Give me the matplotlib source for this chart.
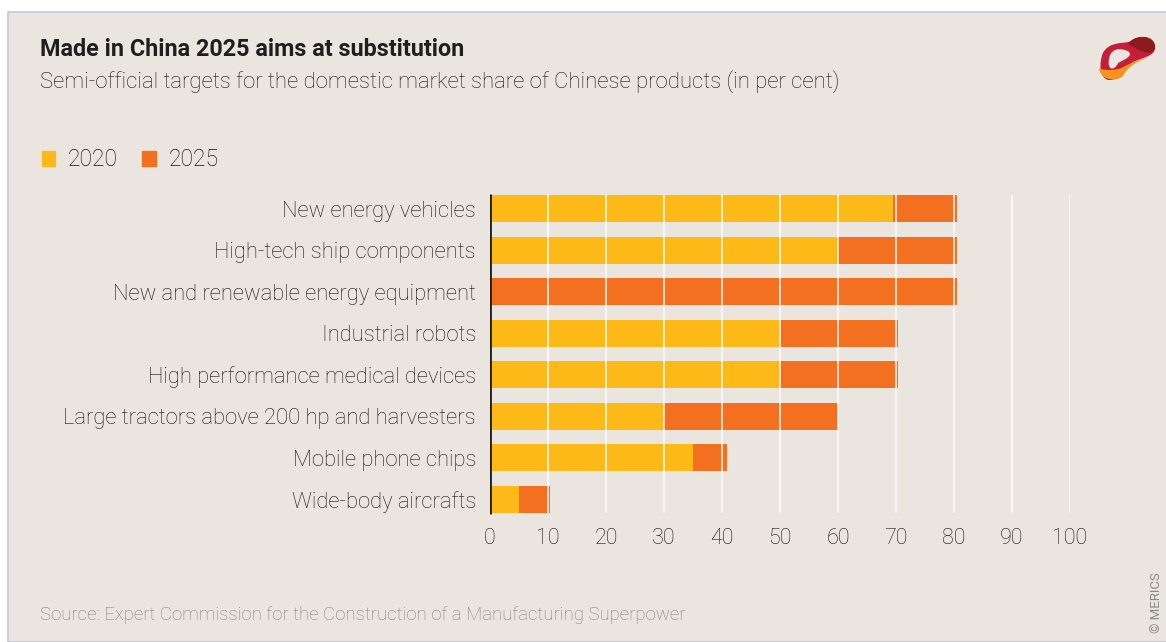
import matplotlib
matplotlib.use("Agg")
import matplotlib.pyplot as plt
from matplotlib.patches import Patch, Rectangle, PathPatch
from matplotlib.path import Path

plt.rcParams['font.family'] = ['Roboto', 'DejaVu Sans']

# data
categories = [
    "New energy vehicles",
    "High-tech ship components",
    "New and renewable energy equipment",
    "Industrial robots",
    "High performance medical devices",
    "Large tractors above 200 hp and harvesters",
    "Mobile phone chips",
    "Wide-body aircrafts",
]
share_2020 = [69.5, 60, 0, 50, 50, 30, 35, 5]
share_2025 = [80.5, 80.5, 80.5, 70.3, 70.3, 60, 40.8, 10.3]
xticks = [0, 10, 20, 30, 40, 50, 60, 70, 80, 90, 100]

BG = "#EBE5DF"
YELLOW = "#FDB918"
ORANGE = "#F37021"
TXT = "#151515"

W, H = 1166, 642
fig = plt.figure(figsize=(W / 100, H / 100), dpi=100)
fig.patch.set_facecolor("white")
# panel with thin border
fig.patches.append(Rectangle((8 / W, 0), 1, 1 - 12 / H, transform=fig.transFigure,
                             facecolor=BG, edgecolor="#C3C6DE", linewidth=1.2, zorder=-10))

ax = fig.add_axes([490 / W, 1 - 520 / H, 580 / W, 332 / H])
ax.set_facecolor("none")
ypos = list(range(len(categories)))
bh = 0.66
ax.barh(ypos, share_2025, height=bh, color=ORANGE, zorder=2)
ax.barh(ypos, share_2020, height=bh, color=YELLOW, zorder=3)

ax.set_ylim(len(categories) - 0.5, -0.5)
ax.set_xlim(0, 100)
ax.vlines(xticks[1:], -bh / 2, len(categories) - 1 + bh / 2, color="white",
          linewidth=1.3, alpha=0.8, zorder=4)
ax.vlines(0, -bh / 2 - 0.03, len(categories) - 1 + bh / 2 + 0.03, color="#1E1E1E",
          linewidth=2, zorder=5)

for s in ax.spines.values():
    s.set_visible(False)
ax.set_yticks(ypos)
ax.set_yticklabels(categories, fontsize=15.8, color=TXT, fontweight="light")
ax.set_xticks(xticks)
ax.set_xticklabels([str(t) for t in xticks], fontsize=15.5, color=TXT, fontweight="light")
ax.tick_params(axis="y", length=0, pad=10)
ax.tick_params(axis="x", length=0, pad=6)

# titles
fig.text(40 / W, 1 - 50 / H, "Made in China 2025 aims at substitution", fontsize=16.8,
         fontweight="bold", color="#1E1E1E", va="center")
fig.text(40 / W, 1 - 82 / H, "Semi-official targets for the domestic market share of Chinese products (in per cent)",
         fontsize=15.9, fontweight="light", color=TXT, va="center")

fig.legend(handles=[Patch(color=YELLOW, label="2020"), Patch(color=ORANGE, label="2025")],
           loc="center left", bbox_to_anchor=(21 / W, 1 - 160 / H), ncol=2, frameon=False,
           handlelength=0.6, handleheight=0.6, handletextpad=0.55, columnspacing=1.05,
           prop={"size": 16.5, "weight": "light"}, labelcolor=TXT)

fig.text(40 / W, 1 - 615 / H,
         "Source: Expert Commission for the Construction of a Manufacturing Superpower",
         fontsize=13.4, fontweight="light", color="#7E7E7E", va="center")
fig.text(1157 / W, 1 - 603 / H, "© MERICS", rotation=90, fontsize=9.5,
         color="#8A8A8A", ha="center", va="center")

# rough logo
lax = fig.add_axes([1099 / W, 1 - 82 / H, 58 / W, 48 / H])
lax.set_xlim(0, 60)
lax.set_ylim(0, 50)
lax.axis("off")
outer = Path([(4, 30), (10, 42), (24, 40), (32, 42), (40, 50), (58, 48), (58, 36),
              (58, 26), (44, 26), (34, 20), (26, 14), (24, 2), (10, 2),
              (0, 4), (0, 20), (4, 30)],
             [Path.MOVETO] + [Path.CURVE4] * 15)
lax.add_patch(PathPatch(outer, facecolor="#C41E3A", edgecolor="none"))
top = Path([(30, 40), (38, 50), (58, 50), (58, 36), (56, 28), (48, 30), (40, 34),
            (36, 36), (32, 38), (30, 40)],
           [Path.MOVETO] + [Path.CURVE4] * 9)
lax.add_patch(PathPatch(top, facecolor="#8E1B1B", edgecolor="none"))
low = Path([(0, 14), (2, 0), (22, 0), (26, 8), (30, 16), (40, 22), (52, 26),
            (40, 24), (30, 18), (22, 14), (14, 12), (6, 12), (0, 14)],
           [Path.MOVETO] + [Path.CURVE4] * 12)
lax.add_patch(PathPatch(low, facecolor="#F7941D", edgecolor="none"))
hole = Path([(10, 20), (10, 36), (22, 36), (30, 32), (36, 28), (28, 24),
             (20, 20), (16, 12), (10, 12), (10, 20)],
            [Path.MOVETO] + [Path.CURVE4] * 9)
lax.add_patch(PathPatch(hole, facecolor=BG, edgecolor="none"))

fig.savefig("out.png", dpi=100, facecolor=fig.get_facecolor())
